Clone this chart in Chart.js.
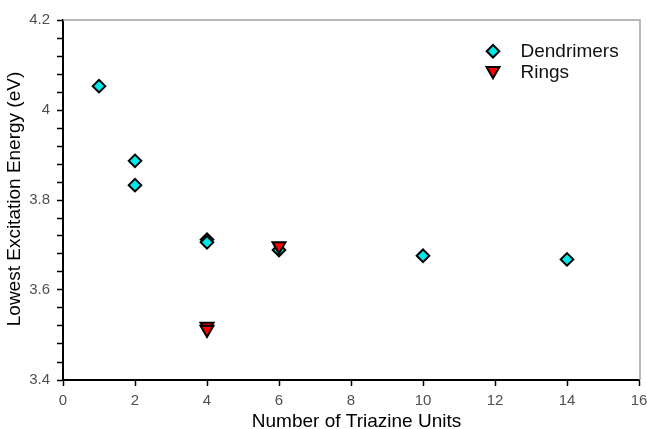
<!DOCTYPE html>
<html>
<head>
<meta charset="utf-8">
<script src="https://cdn.jsdelivr.net/npm/chart.js@4/dist/chart.umd.min.js"></script>
<style>
  html, body { margin: 0; padding: 0; background: #ffffff; }
  #wrap { width: 647px; height: 429px; }
</style>
</head>
<body>
<div id="wrap"><canvas id="chart" width="647" height="429"></canvas></div>
<script>
// Lowest excitation energy versus number of triazine units
const dendrimerUnits  = [1, 2, 2, 4, 4, 6, 10, 14];
const dendrimerEnergy = [4.053, 3.887, 3.833, 3.712, 3.706, 3.689, 3.676, 3.668];
const ringUnits  = [4, 4, 6];
const ringEnergy = [3.519, 3.512, 3.698];
const seriesNames = ['Dendrimers', 'Rings'];
const xTitle = 'Number of Triazine Units';
const yTitle = 'Lowest Excitation Energy (eV)';
const xRange = [0, 16];
const yRange = [3.4, 4.2];

const FONT = '"Liberation Sans", Arial, Helvetica, sans-serif';

function toPoints(xs, ys) {
  return xs.map((x, i) => ({ x: x, y: ys[i] }));
}

// Plot frame (top/right), axis captions and the in-plot legend
const decorations = {
  id: 'decorations',
  afterDraw(chart) {
    const { ctx, chartArea: a } = chart;
    ctx.save();
    ctx.strokeStyle = '#a3a3a3';
    ctx.lineWidth = 1.5;
    ctx.beginPath();
    ctx.moveTo(a.left, a.top);
    ctx.lineTo(a.right + 1, a.top);
    ctx.lineTo(a.right + 1, a.bottom);
    ctx.stroke();

    ctx.fillStyle = '#000';
    ctx.font = '19px ' + FONT;
    ctx.textAlign = 'center';
    ctx.textBaseline = 'middle';
    ctx.fillText(xTitle, 356.5, 421.5);
    ctx.save();
    ctx.translate(14.5, 199);
    ctx.rotate(-Math.PI / 2);
    ctx.fillText(yTitle, 0, 0);
    ctx.restore();

    const rows = [
      { ds: chart.data.datasets[1], y: 51.2 },
      { ds: chart.data.datasets[0], y: 70.7 }
    ];
    rows.forEach((row) => {
      const ds = row.ds;
      ctx.fillStyle = ds.backgroundColor;
      ctx.strokeStyle = ds.borderColor;
      ctx.lineWidth = ds.borderWidth;
      Chart.helpers.drawPoint(ctx, {
        pointStyle: ds.pointStyle,
        radius: ds.pointRadius,
        rotation: ds.rotation || 0,
        borderWidth: ds.borderWidth
      }, 493, row.y);
    });
    ctx.fillStyle = '#111';
    ctx.textAlign = 'left';
    ctx.font = '19px ' + FONT;
    ctx.fillText(seriesNames[0], 520.5, 52);
    ctx.fillText(seriesNames[1], 520.5, 73);
    ctx.restore();
  }
};

new Chart(document.getElementById('chart'), {
  type: 'scatter',
  data: {
    datasets: [
      {
        label: seriesNames[1],
        data: toPoints(ringUnits, ringEnergy),
        pointStyle: 'triangle',
        rotation: 180,
        pointRadius: 7.5,
        pointHoverRadius: 7.5,
        backgroundColor: '#ff0000',
        borderColor: '#000000',
        borderWidth: 2,
        order: 0
      },
      {
        label: seriesNames[0],
        data: toPoints(dendrimerUnits, dendrimerEnergy),
        pointStyle: 'rectRot',
        pointRadius: 6.3,
        pointHoverRadius: 6.3,
        backgroundColor: '#00e8e8',
        borderColor: '#000000',
        borderWidth: 2,
        order: 1
      }
    ]
  },
  options: {
    responsive: false,
    animation: false,
    devicePixelRatio: 1,
    layout: { autoPadding: false, padding: { top: 20, right: 8, bottom: 0, left: 0 } },
    plugins: {
      legend: { display: false },
      tooltip: { enabled: false }
    },
    scales: {
      x: {
        type: 'linear',
        min: xRange[0],
        max: xRange[1],
        afterFit(scale) {
          scale.height = 49;
          scale.paddingLeft = 0;
          scale.paddingRight = 0;
        },
        border: { display: true, color: '#000', width: 2 },
        grid: {
          drawOnChartArea: false,
          drawTicks: true,
          tickLength: 6,
          tickColor: '#000',
          tickWidth: 1.5,
          color: '#000'
        },
        ticks: {
          stepSize: 2,
          padding: 6,
          color: '#505050',
          font: { family: FONT, size: 15 }
        },
        title: { display: false }
      },
      y: {
        type: 'linear',
        min: yRange[0],
        max: yRange[1],
        afterFit(scale) {
          scale.width = 63;
          scale.paddingTop = 0;
          scale.paddingBottom = 0;
        },
        border: { display: true, color: '#000', width: 2 },
        grid: {
          drawOnChartArea: false,
          drawTicks: true,
          tickLength: 6,
          tickColor: '#000',
          tickWidth: 1.5,
          color: '#000'
        },
        ticks: {
          stepSize: 0.04,
          maxTicksLimit: 30,
          autoSkip: false,
          padding: 7,
          color: '#505050',
          font: { family: FONT, size: 15 },
          callback(v) {
            const k = v * 5;
            return Math.abs(k - Math.round(k)) < 1e-6 ? String(Number(v.toFixed(1))) : '';
          }
        },
        title: { display: false }
      }
    }
  },
  plugins: [decorations]
});
</script>
</body>
</html>
